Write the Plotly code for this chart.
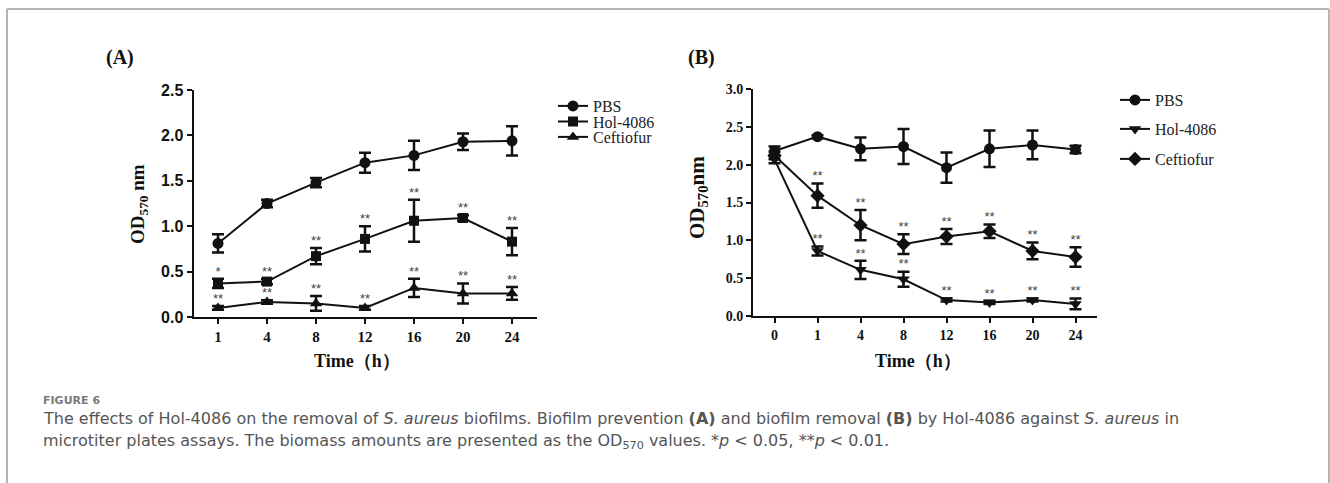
import plotly.graph_objects as go

W, H = 1330, 483
def px(x): return x / W
def py(y): return 1 - y / H

# ---------------- data ----------------
time_a = ["1", "4", "8", "12", "16", "20", "24"]
pbs_a = [0.81, 1.25, 1.48, 1.70, 1.78, 1.93, 1.94]
pbs_a_err = [0.10, 0.04, 0.05, 0.11, 0.16, 0.09, 0.16]
hol_a = [0.37, 0.39, 0.67, 0.86, 1.06, 1.09, 0.83]
hol_a_err = [0.05, 0.03, 0.09, 0.14, 0.23, 0.03, 0.15]
cef_a = [0.10, 0.165, 0.15, 0.10, 0.32, 0.26, 0.26]
cef_a_err = [0.02, 0.02, 0.08, 0.02, 0.10, 0.11, 0.07]
hol_a_sig = ["*", "**", "**", "**", "**", "**", "**"]
cef_a_sig = ["**", "**", "**", "**", "**", "**", "**"]

time_b = ["0", "1", "4", "8", "12", "16", "20", "24"]
pbs_b = [2.18, 2.37, 2.21, 2.24, 1.96, 2.21, 2.26, 2.20]
pbs_b_err = [0.06, 0.02, 0.15, 0.23, 0.20, 0.24, 0.19, 0.05]
hol_b = [2.07, 0.86, 0.61, 0.485, 0.21, 0.18, 0.21, 0.16]
hol_b_err = [0.05, 0.06, 0.12, 0.10, 0.02, 0.02, 0.02, 0.07]
cef_b = [2.12, 1.59, 1.20, 0.95, 1.05, 1.12, 0.86, 0.78]
cef_b_err = [0.05, 0.16, 0.20, 0.13, 0.10, 0.09, 0.11, 0.13]
hol_b_sig = ["", "**", "**", "**", "**", "**", "**", "**"]
cef_b_sig = ["", "**", "**", "**", "**", "**", "**", "**"]

legend_a = ["PBS", "Hol-4086", "Ceftiofur"]
legend_b = ["PBS", "Hol-4086", "Ceftiofur"]

# ---------------- figure ----------------
fig = go.Figure()
BLACK = "#111111"

def series(x, y, err, name, symbol, xa, ya, leg, size=10):
    fig.add_trace(go.Scatter(
        x=x, y=y, name=name, mode="lines+markers",
        line=dict(color=BLACK, width=2),
        marker=dict(symbol=symbol, size=size, color=BLACK),
        error_y=dict(type="data", array=err, visible=True, color=BLACK,
                     thickness=2.5, width=6),
        xaxis=xa, yaxis=ya, legend=leg, cliponaxis=False,
    ))

def stars(x, y, err, sig, xa, ya):
    fig.add_trace(go.Scatter(
        x=x, y=[a + b for a, b in zip(y, err)], text=sig, mode="text",
        textposition="top center",
        textfont=dict(family="Liberation Sans", size=13, color="#444444"),
        xaxis=xa, yaxis=ya, showlegend=False, cliponaxis=False,
        hoverinfo="skip",
    ))

series(time_a, pbs_a, pbs_a_err, legend_a[0], "circle", "x", "y", "legend", 11)
series(time_a, hol_a, hol_a_err, legend_a[1], "square", "x", "y", "legend2")
series(time_a, cef_a, cef_a_err, legend_a[2], "triangle-up", "x", "y", "legend3", 11)
stars(time_a, hol_a, hol_a_err, hol_a_sig, "x", "y")
stars(time_a, cef_a, cef_a_err, cef_a_sig, "x", "y")

series(time_b, pbs_b, pbs_b_err, legend_b[0], "circle", "x2", "y2", "legend4", 11)
series(time_b, hol_b, hol_b_err, legend_b[1], "triangle-down", "x2", "y2", "legend5", 11)
series(time_b, cef_b, cef_b_err, legend_b[2], "diamond", "x2", "y2", "legend6", 11)
stars(time_b, hol_b, hol_b_err, hol_b_sig, "x2", "y2")
stars(time_b, cef_b, cef_b_err, cef_b_sig, "x2", "y2")

axis_common = dict(showline=True, linewidth=2, linecolor=BLACK, ticks="outside",
                   ticklen=5, tickwidth=2, tickcolor=BLACK, showgrid=False,
                   zeroline=False, mirror=False, automargin=False)

def legend_box(x, y):
    return dict(x=px(x), y=py(y), xanchor="left", yanchor="middle",
                font=dict(family="Liberation Serif", size=16, color="#222222"),
                bgcolor="rgba(0,0,0,0)", itemwidth=30)

fig.update_layout(
    width=W, height=H, margin=dict(l=0, r=0, t=0, b=0, autoexpand=False),
    paper_bgcolor="white", plot_bgcolor="white", showlegend=True,
    xaxis=dict(domain=[px(193.5), px(536.5)], type="category", range=[-0.5, 6.5],
               anchor="y", tickfont=dict(family="Liberation Serif", size=15,
                                         color=BLACK, weight="bold"), **axis_common),
    yaxis=dict(domain=[py(317), py(90)], range=[0, 2.5], dtick=0.5, tickformat=".1f",
               anchor="x", tickfont=dict(family="Liberation Sans", size=16,
                                         color=BLACK, weight="bold"), **axis_common),
    xaxis2=dict(domain=[px(753), px(1097)], type="category", range=[-0.5, 7.5],
                anchor="y2", tickfont=dict(family="Liberation Serif", size=14,
                                           color=BLACK, weight="bold"), **axis_common),
    yaxis2=dict(domain=[py(316), py(89)], range=[0, 3.0], dtick=0.5, tickformat=".1f",
                anchor="x2", tickfont=dict(family="Liberation Serif", size=14,
                                           color=BLACK, weight="bold"), **axis_common),
    legend=legend_box(553, 106),
    legend2=legend_box(553, 121.5),
    legend3=legend_box(553, 137),
    legend4=legend_box(1115, 100),
    legend5=legend_box(1115, 129),
    legend6=legend_box(1115, 159),
)

ann = []
def note(text, x, y, size, family="Liberation Serif", color=BLACK,
         xanchor="center", yanchor="middle", **kw):
    ann.append(dict(text=text, x=px(x), y=py(y), xref="paper", yref="paper",
                    xanchor=xanchor, yanchor=yanchor, showarrow=False,
                    font=dict(family=family, size=size, color=color), **kw))

note("<b>(A)</b>", 120, 57, 20)
note("<b>(B)</b>", 701, 57, 20)
note("<b>OD<sub>570</sub> nm</b>", 139, 204, 19, textangle=-90)
note("<b>OD<sub>570</sub>nm</b>", 698, 198, 21, textangle=-90)
note("<b>Time（h）</b>", 357, 361, 18)
note("<b>Time（h）</b>", 918, 361, 18)
note("<b>FIGURE 6</b>", 41, 400, 11, family="DejaVu Sans", color="#7a7a7a",
     xanchor="left")
cap1 = ("The effects of Hol-4086 on the removal of <i>S. aureus</i> biofilms. Biofilm prevention "
        "<b>(A)</b> and biofilm removal <b>(B)</b> by Hol-4086 against <i>S. aureus</i> in")
cap2 = ("microtiter plates assays. The biomass amounts are presented as the OD<sub>570</sub> "
        "values. *<i>p</i> &lt; 0.05, **<i>p</i> &lt; 0.01.")
note(cap1, 41, 418, 16, family="DejaVu Sans", color="#555555", xanchor="left")
note(cap2, 41, 441, 16, family="DejaVu Sans", color="#555555", xanchor="left")
fig.update_layout(annotations=ann)

frame = dict(color="#b4b4b4", width=2)
fig.update_layout(shapes=[
    dict(type="line", xref="paper", yref="paper", x0=px(7), x1=px(1329), y0=py(9), y1=py(9), line=frame),
    dict(type="line", xref="paper", yref="paper", x0=px(7), x1=px(7), y0=py(9), y1=py(483), line=frame),
    dict(type="line", xref="paper", yref="paper", x0=px(1329), x1=px(1329), y0=py(9), y1=py(483), line=frame),
])

fig.write_html("out.html", config={"displayModeBar": False},
               post_script="document.body.style.margin='0';document.body.style.overflow='hidden';")
